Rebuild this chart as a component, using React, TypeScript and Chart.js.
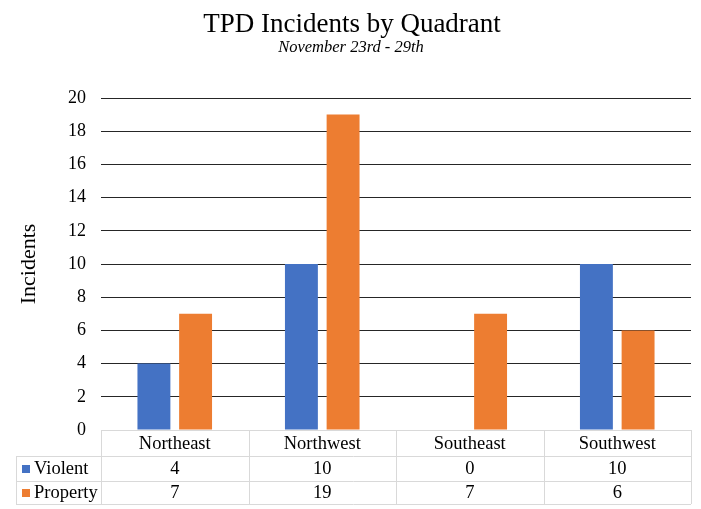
import React, { useEffect, useRef } from "react";
import { Chart, registerables } from "chart.js";

Chart.register(...registerables);

const categories = ["Northeast", "Northwest", "Southeast", "Southwest"];
const violent = [4, 10, 0, 10];
const property = [7, 19, 7, 6];
const seriesNames = ["Violent", "Property"];
const seriesColors = ["#4472C4", "#ED7D31"];
const titleText = "TPD Incidents by Quadrant";
const subtitleText = "November 23rd - 29th";
const yTitle = "Incidents";

const FONT = "'Liberation Serif', 'Times New Roman', serif";

const titlePlugin = {
  id: "customTitles",
  afterDraw(chart: any) {
    const ctx = chart.ctx;
    ctx.save();
    ctx.fillStyle = "#000";
    ctx.textAlign = "center";
    ctx.textBaseline = "alphabetic";
    ctx.font = `27px ${FONT}`;
    ctx.fillText(titleText, 352, 32);
    ctx.font = `italic 16.5px ${FONT}`;
    ctx.fillText(subtitleText, 351, 52);
    ctx.restore();
  },
};

const tablePlugin = {
  id: "dataTable",
  afterDraw(chart: any) {
    const ctx = chart.ctx;
    const area = chart.chartArea;
    const xs = chart.scales.x;
    const catW = (area.right - area.left) / categories.length;
    const y0 = area.bottom;
    const y1 = y0 + 26;
    const y2 = y0 + 51;
    const y3 = y0 + 74;
    const tableLeft = 16;
    ctx.save();
    ctx.strokeStyle = "#d9d9d9";
    ctx.lineWidth = 1;
    const hline = (x1: number, x2: number, y: number) => {
      ctx.beginPath();
      ctx.moveTo(x1, Math.round(y) + 0.5);
      ctx.lineTo(x2, Math.round(y) + 0.5);
      ctx.stroke();
    };
    const vline = (x: number, ya: number, yb: number) => {
      ctx.beginPath();
      ctx.moveTo(Math.round(x) + 0.5, ya);
      ctx.lineTo(Math.round(x) + 0.5, yb);
      ctx.stroke();
    };
    hline(area.left, area.right, y0);
    hline(tableLeft, area.right, y1);
    hline(tableLeft, area.right, y2);
    hline(tableLeft, area.right, y3);
    for (let i = 0; i <= categories.length; i++) {
      vline(area.left + i * catW, y0, y3);
    }
    vline(tableLeft, y1, y3);

    ctx.fillStyle = "#000";
    ctx.textBaseline = "middle";
    ctx.textAlign = "center";
    ctx.font = `18.5px ${FONT}`;
    categories.forEach((c, i) => {
      const cx = xs.getPixelForValue(i);
      ctx.fillText(c, cx, (y0 + y1) / 2 + 1);
    });
    const rows = [violent, property];
    const rowMid = [(y1 + y2) / 2 + 1, (y2 + y3) / 2 + 1];
    rows.forEach((vals, r) => {
      vals.forEach((v, i) => {
        const cx = xs.getPixelForValue(i);
        ctx.fillText(String(v), cx, rowMid[r]);
      });
    });
    ctx.textAlign = "left";
    seriesNames.forEach((name, r) => {
      ctx.fillStyle = seriesColors[r];
      ctx.fillRect(22, Math.round(rowMid[r] - 4.5), 8, 8);
      ctx.fillStyle = "#000";
      ctx.fillText(name, 34, rowMid[r]);
    });
    ctx.restore();
  },
};

export default function App() {
  const ref = useRef<HTMLCanvasElement | null>(null);
  useEffect(() => {
    if (!ref.current) return;
    const chart = new Chart(ref.current, {
      type: "bar",
      data: {
        labels: categories,
        datasets: [
          {
            label: seriesNames[0],
            data: violent,
            backgroundColor: seriesColors[0],
            categoryPercentage: 0.565,
            barPercentage: 0.79,
          },
          {
            label: seriesNames[1],
            data: property,
            backgroundColor: seriesColors[1],
            categoryPercentage: 0.565,
            barPercentage: 0.79,
          },
        ],
      },
      options: {
        animation: false,
        responsive: false,
        maintainAspectRatio: false,
        layout: { padding: { top: 98, left: 0, right: 10, bottom: 4 } },
        plugins: {
          legend: { display: false },
          tooltip: { enabled: false },
          title: { display: false },
        },
        scales: {
          x: {
            grid: { display: false },
            border: { display: false },
            ticks: { display: false },
            afterFit: (scale: any) => {
              scale.height = 75;
            },
          },
          y: {
            min: 0,
            max: 20,
            ticks: {
              stepSize: 2,
              color: "#000",
              font: { family: FONT, size: 18 },
              padding: 15,
            },
            grid: {
              drawTicks: false,
              color: (c: any) => (c.tick && c.tick.value === 0 ? "rgba(0,0,0,0)" : "#262626"),
              lineWidth: 1,
            },
            border: { display: false },
            title: {
              display: true,
              text: yTitle,
              color: "#000",
              font: { family: FONT, size: 22 },
              padding: { top: 16, bottom: 0 },
            },
            afterFit: (scale: any) => {
              scale.width = 101;
            },
          },
        },
      },
      plugins: [titlePlugin, tablePlugin],
    });
    return () => chart.destroy();
  }, []);
  return (
    <div style={{ position: "fixed", left: 0, top: 0, width: 701, height: 509, background: "#fff" }}>
      <canvas ref={ref} width={701} height={509} style={{ width: 701, height: 509 }} />
    </div>
  );
}
